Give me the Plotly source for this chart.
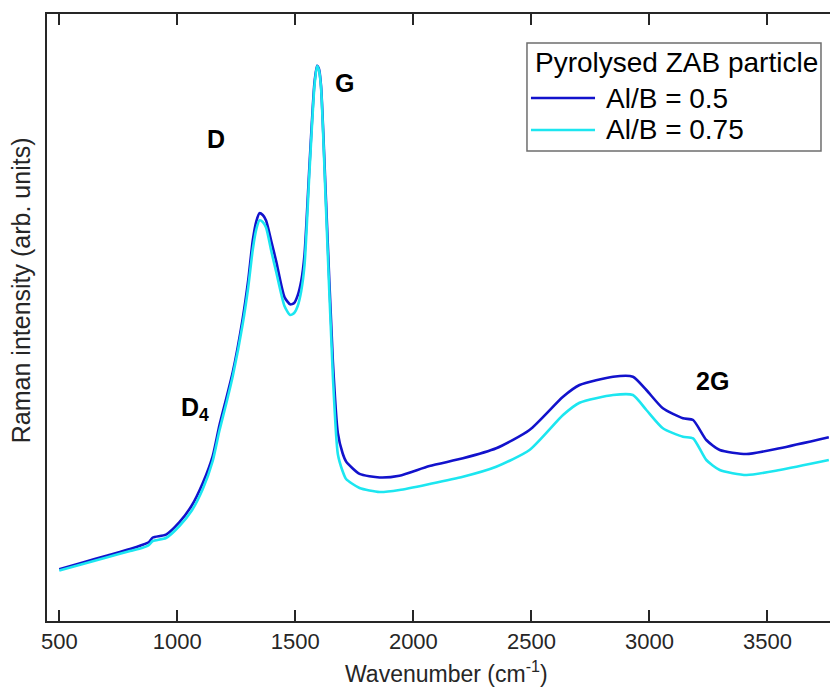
import plotly.graph_objects as go

# Raman spectra of pyrolysed ZAB particles (intensity in arbitrary units)
wavenumber = [500, 600, 700, 800, 850, 880, 896, 952, 1009, 1060, 1108, 1150, 1178, 1210,
              1235, 1277, 1300, 1320, 1335, 1348, 1362, 1376, 1400, 1419, 1454, 1478, 1495,
              1510, 1525, 1539, 1560, 1581, 1592, 1600, 1609, 1630, 1659, 1680, 1700, 1715,
              1772, 1857, 1941, 2068, 2210, 2351, 2492, 2634, 2704, 2846, 2930, 2987, 3057,
              3142, 3185, 3241, 3298, 3411, 3552, 3760]

al_b_050 = [51.7, 58.5, 65.3, 72, 76, 79, 83.5, 86.4, 98.9, 115, 138.1, 165, 195.3, 225,
            248.9, 302.4, 340, 381, 400, 407.8, 406, 400.6, 378, 359.6, 323.9, 316.7, 318,
            325.6, 340, 366.7, 456, 538.1, 555.3, 552, 534.6, 420.3, 259.6, 188.1, 168, 159.6,
            147.1, 143.5, 145.3, 155, 162.7, 172.7, 191, 224.3, 236, 244.3, 244.3, 231, 212.7,
            202.7, 201, 181, 171, 167, 172.7, 183.7]

al_b_075 = [50.5, 57, 63.5, 70, 73, 76, 80, 83, 95, 110, 132, 160, 190, 220,
            245, 297, 333, 372, 392, 400.6, 399, 393.5, 368, 349, 315, 306, 308,
            315, 330, 356, 450, 535, 555, 551, 533, 412, 245, 167, 150, 142,
            133, 129, 131, 137, 144.3, 154.3, 171, 206, 218.3, 226, 226, 211, 192.7,
            184.3, 182.7, 161, 151, 146, 151, 161]

series_names = ["Al/B = 0.5", "Al/B = 0.75"]
series_colors = ["#1212cc", "#1ce6f0"]

# peak labels: text, wavenumber, intensity
peak_labels = ["D", "G", "D<sub>4</sub>", "2G"]
peak_x = [1165, 1708, 1074, 3268]
peak_y = [482, 538, 212, 240]

FONT = "Liberation Sans, Arial, sans-serif"
AXIS_COLOR = "#262626"

fig = go.Figure()
for name, vals, col in zip(series_names, [al_b_050, al_b_075], series_colors):
    fig.add_trace(go.Scatter(x=wavenumber, y=vals, mode="lines", name=name,
                             line=dict(color=col, width=2.6, shape="spline", smoothing=0.6),
                             showlegend=False))

for txt, px, py in zip(peak_labels, peak_x, peak_y):
    fig.add_annotation(x=px, y=py, text="<b>" + txt + "</b>", showarrow=False,
                       font=dict(family=FONT, size=25, color="black"))

# legend box drawn by hand so the line samples match the original
fig.add_shape(type="rect", xref="paper", yref="paper", x0=0.613, x1=0.9885, y0=0.7743, y1=0.9522,
              line=dict(color="#6e6e6e", width=1.5), fillcolor="white", layer="below")
fig.add_annotation(xref="paper", yref="paper", x=0.6207, y=0.9209, xanchor="left", yanchor="middle",
                   text="Pyrolysed ZAB particle", showarrow=False,
                   font=dict(family=FONT, size=28, color="black"))
for i, (name, col) in enumerate(zip(series_names, series_colors)):
    yy = 0.8616 - i * 0.0527
    fig.add_shape(type="line", xref="paper", yref="paper", x0=0.6181, x1=0.6999, y0=yy, y1=yy,
                  line=dict(color=col, width=2.6))
    fig.add_annotation(xref="paper", yref="paper", x=0.7114, y=yy, xanchor="left", yanchor="middle",
                       text=name, showarrow=False, font=dict(family=FONT, size=28, color="black"))

# axis titles placed as annotations for exact positioning
fig.add_annotation(xref="paper", yref="paper", x=0.51, y=-0.084, xanchor="center", yanchor="middle",
                   text="Wavenumber (cm<sup>-1</sup>)", showarrow=False,
                   font=dict(family=FONT, size=23, color="#262626"))
fig.add_annotation(xref="paper", yref="paper", x=-0.0332, y=0.545, xanchor="center", yanchor="middle",
                   text="Raman intensity (arb. units)", textangle=-90, showarrow=False,
                   font=dict(family=FONT, size=25, color="#262626"))

fig.update_layout(
    width=830, height=689,
    margin=dict(l=47, r=0, t=14, b=68),
    plot_bgcolor="white", paper_bgcolor="white",
    font=dict(family=FONT, size=22, color="#262626"),
    xaxis=dict(range=[448, 3765], tickvals=[500, 1000, 1500, 2000, 2500, 3000, 3500],
               ticks="inside", ticklen=11, tickwidth=2, tickcolor=AXIS_COLOR,
               showline=True, linecolor=AXIS_COLOR, linewidth=2, mirror="ticks",
               showgrid=False, zeroline=False),
    yaxis=dict(range=[0, 607], showticklabels=False, ticks="",
               showline=True, linecolor=AXIS_COLOR, linewidth=2, mirror=False,
               showgrid=False, zeroline=False),
)

# drop the default page margin so the figure sits at the window's top-left corner
fig.write_html("out.html", config={"displayModeBar": False},
               post_script="document.body.style.margin='0';")
